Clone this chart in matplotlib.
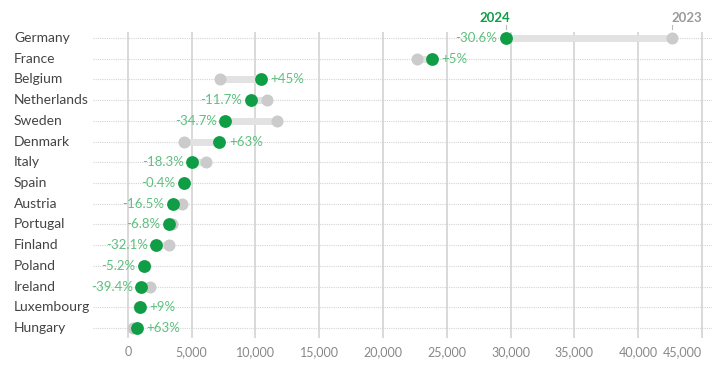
import matplotlib
matplotlib.use("Agg")
import matplotlib.pyplot as plt
from matplotlib.transforms import blended_transform_factory

countries = ["Germany", "France", "Belgium", "Netherlands", "Sweden", "Denmark",
             "Italy", "Spain", "Austria", "Portugal", "Finland", "Poland",
             "Ireland", "Luxembourg", "Hungary"]
v2023 = [42700, 22700, 7200, 10900, 11700, 4400, 6150, 4400, 4200, 3450, 3250,
         1320, 1700, 870, 430]
v2024 = [29630, 23850, 10440, 9620, 7640, 7170, 5020, 4380, 3500, 3220, 2200,
         1250, 1030, 950, 700]
changes = ["-30.6%", "+5%", "+45%", "-11.7%", "-34.7%", "+63%", "-18.3%", "-0.4%",
           "-16.5%", "-6.8%", "-32.1%", "-5.2%", "-39.4%", "+9%", "+63%"]
xticks = [0, 5000, 10000, 15000, 20000, 25000, 30000, 35000, 40000, 45000]

GREEN = "#0f9d45"
LABEL_GREEN = "#5dc07f"
GREY_DOT = "#cbcbcb"
BAR = "#e2e2e2"
GRID = "#d9d9d9"

plt.rcParams["font.family"] = ["Lato", "DejaVu Sans"]

fig = plt.figure(figsize=(7.27, 3.76), dpi=100)
ax = fig.add_axes([93 / 727, (376 - 338) / 376, (712 - 93) / 727, (338 - 32) / 376])
n = len(countries)
ax.set_xlim(-2740, 45800)
ax.set_ylim(n - 0.52, -0.29)

# grid: solid verticals at ticks, dotted horizontals per row
for t in xticks:
    ax.axvline(t, color=GRID, lw=1.4, zorder=0)
for i in range(n):
    ax.axhline(i, color="#d4d4d4", lw=0.8, ls=(0, (1, 1)), zorder=0)

# country names sit at a fixed figure x, row y in data
name_tr = blended_transform_factory(fig.transFigure, ax.transData)

for i in range(n):
    a, b = v2023[i], v2024[i]
    ax.plot([a, b], [i, i], color=BAR, lw=5, solid_capstyle="butt", zorder=1)
    ax.scatter(a, i, s=75, color=GREY_DOT, zorder=2, linewidths=0)
    ax.scatter(b, i, s=85, color=GREEN, zorder=3, linewidths=0)
    up = changes[i].startswith("+")
    ax.annotate(changes[i], (b, i), xytext=(7 if up else -6, 0),
                textcoords="offset points", ha="left" if up else "right",
                va="center", color=LABEL_GREEN, fontsize=9.5)
    ax.text(14 / 727, i, countries[i], transform=name_tr,
            ha="left", va="center", color="#444444", fontsize=10)

# series headers above Germany row, with small tick marks
ax.annotate("2024", (v2024[0], 0), xytext=(3, 10), textcoords="offset points",
            ha="right", va="bottom", color=GREEN, fontsize=9.5, fontweight="bold")
ax.annotate("2023", (v2023[0], 0), xytext=(-1, 10), textcoords="offset points",
            ha="left", va="bottom", color="#9a9a9a", fontsize=9.5, fontweight="bold")
for xv in (v2024[0], v2023[0]):
    ax.plot([xv, xv], [-0.45, -0.65], color="#bbbbbb", lw=0.8, clip_on=False)

ax.set_xticks(xticks)
ax.set_xticklabels([f"{t:,}" for t in xticks], color="#888888", fontsize=9)
ax.get_xticklabels()[-1].set_ha("right")
ax.tick_params(axis="x", length=0, pad=6)
ax.set_yticks([])
for s in ax.spines.values():
    s.set_visible(False)

fig.savefig("out.png", dpi=100)
